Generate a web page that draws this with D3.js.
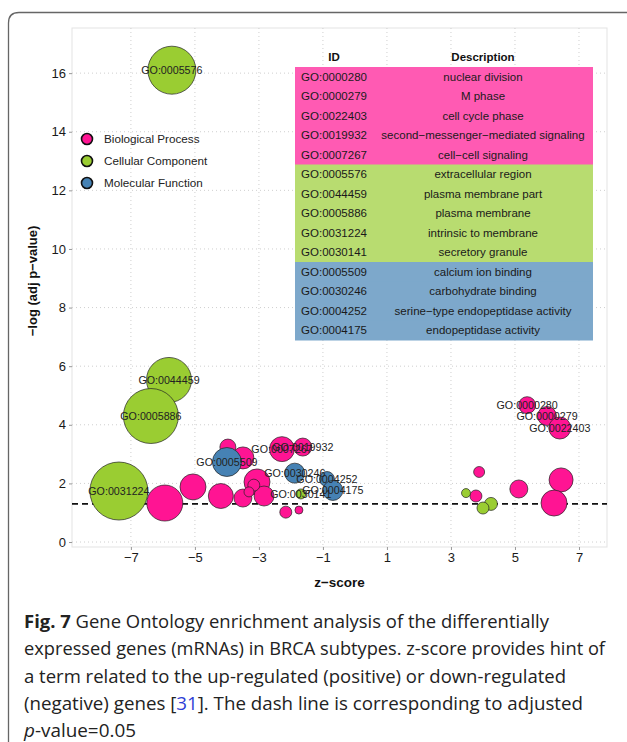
<!DOCTYPE html>
<html>
<head>
<meta charset="utf-8">
<script src="https://cdnjs.cloudflare.com/ajax/libs/d3/7.8.5/d3.min.js"></script>
<style>
  body { margin: 0; background: #fff; }
  svg { display: block; }
</style>
</head>
<body>
<script>
// GO categories and colours
const categories = ["Biological Process", "Cellular Component", "Molecular Function"];
const categoryColors = ["#ff1493", "#9acd32", "#4682b4"];
const tableColors = ["#ff5ab3", "#b8dc70", "#7da8cb"];

// bubbles (draw order: BP, CC, MF); empty id = unlabelled term
const termIds = [
  "", "", "", "", "", "", "", "", "", "", "GO:0007267", "GO:0019932", "", "",
  "GO:0000280", "GO:0000279", "GO:0022403", "", "", "", "", "",
  "GO:0044459", "GO:0005886", "GO:0005576", "GO:0031224", "GO:0030141", "", "", "",
  "GO:0005509", "GO:0030246", "GO:0004252", "GO:0004175"
];
const termCategory = [
  0, 0, 0, 0, 0, 0, 0, 0, 0, 0, 0, 0, 0, 0,
  0, 0, 0, 0, 0, 0, 0, 0,
  1, 1, 1, 1, 1, 1, 1, 1,
  2, 2, 2, 2
];
const zScores = [
  -5.94, -5.06, -4.19, -3.5, -3.06, -2.84, -3.16, -3.31, -3.97, -3.5, -2.28, -1.63, -2.16, -1.75,
  5.38, 6.0, 6.4, 3.88, 5.12, 6.44, 6.22, 3.78,
  -5.81, -6.375, -5.72, -7.375, -1.69, 3.47, 4.25, 4.0,
  -4.0, -1.88, -0.875, -0.69
];
const negLogAdjP = [
  1.33, 1.88, 1.57, 1.50, 2.05, 1.57, 1.94, 1.71, 3.24, 2.87, 3.17, 3.24, 1.02, 1.09,
  4.67, 4.30, 3.89, 2.39, 1.81, 2.12, 1.33, 1.57,
  5.53, 4.30, 16.1, 1.74, 1.64, 1.67, 1.30, 1.16,
  2.73, 2.35, 2.15, 1.76
];
const geneCounts = [
  324, 169, 156, 81, 169, 100, 36, 25, 64, 121, 156, 81, 36, 16,
  72, 90, 121, 30, 81, 144, 169, 36,
  506, 756, 576, 841, 25, 20, 42, 36,
  210, 100, 56, 100
];

// table annotation
const tableIds = [
  "GO:0000280", "GO:0000279", "GO:0022403", "GO:0019932", "GO:0007267",
  "GO:0005576", "GO:0044459", "GO:0005886", "GO:0031224", "GO:0030141",
  "GO:0005509", "GO:0030246", "GO:0004252", "GO:0004175"
];
const tableDescriptions = [
  "nuclear division", "M phase", "cell cycle phase",
  "second\u2212messenger\u2212mediated signaling", "cell\u2212cell signaling",
  "extracellular region", "plasma membrane part", "plasma membrane",
  "intrinsic to membrane", "secretory granule",
  "calcium ion binding", "carbohydrate binding",
  "serine\u2212type endopeptidase activity", "endopeptidase activity"
];
const tableCategory = [0, 0, 0, 0, 0, 1, 1, 1, 1, 1, 2, 2, 2, 2];

const xTicks = [-7, -5, -3, -1, 1, 3, 5, 7];
const yTicks = [0, 2, 4, 6, 8, 10, 12, 14, 16];
const pCutoff = 0.05;

const captionLines = [
  [["Fig. 7", "bold"], [" Gene Ontology enrichment analysis of the differentially", ""]],
  [["expressed genes (mRNAs) in BRCA subtypes. z-score provides hint of", ""]],
  [["a term related to the up-regulated (positive) or down-regulated", ""]],
  [["(negative) genes [", ""], ["31", "link"], ["]. The dash line is corresponding to adjusted", ""]],
  [["p", "italic"], ["-value=0.05", ""]]
];
// line widths measured on the printed figure
const captionWidths = [525, 581, 542, 559, 112];

const W = 627, H = 742;
const plotFont = "'Liberation Sans', Arial, sans-serif";

const svg = d3.select("body").append("svg")
  .attr("width", W).attr("height", H);

svg.append("rect").attr("width", W).attr("height", H).attr("fill", "#fff");

// rounded figure frame (open to the right / bottom)
svg.append("path")
  .attr("d", "M8.5," + H + " L8.5,23 Q8.5,12.5 19,12.5 L" + W + ",12.5")
  .attr("fill", "none")
  .attr("stroke", "#666")
  .attr("stroke-width", 1.3);

const x = d3.scaleLinear().domain([-8.84, 7.875]).range([72, 607]);
const y = d3.scaleLinear().domain([-0.17, 17.54]).range([547, 28]);
const r = d3.scaleSqrt().domain([0, 841]).range([0, 29]);
const color = d3.scaleOrdinal().domain([0, 1, 2]).range(categoryColors);

const [x0, x1] = x.range();
const [y0, y1] = y.range();

// panel
svg.append("rect")
  .attr("x", x0).attr("y", y1)
  .attr("width", x1 - x0).attr("height", y0 - y1)
  .attr("fill", "#fff")
  .attr("stroke", "#e3e3e3")
  .attr("stroke-width", 1);

// grid
svg.append("g").selectAll("line")
  .data(xTicks).enter().append("line")
  .attr("x1", d => x(d)).attr("x2", d => x(d))
  .attr("y1", y1).attr("y2", y0)
  .attr("stroke", "#cfcfcf").attr("stroke-dasharray", "1,3");

svg.append("g").selectAll("line")
  .data(yTicks).enter().append("line")
  .attr("x1", x0).attr("x2", x1)
  .attr("y1", d => y(d)).attr("y2", d => y(d))
  .attr("stroke", "#cfcfcf").attr("stroke-dasharray", "1,3");

// axes
const xAxis = svg.append("g")
  .attr("transform", "translate(0," + y0 + ")")
  .call(d3.axisBottom(x).tickValues(xTicks).tickSize(3).tickPadding(3));
const yAxis = svg.append("g")
  .attr("transform", "translate(" + x0 + ",0)")
  .call(d3.axisLeft(y).tickValues(yTicks).tickSize(3).tickPadding(3));

[xAxis, yAxis].forEach(function (g) {
  g.select(".domain").remove();
  g.selectAll(".tick line").attr("stroke", "#999");
  g.selectAll(".tick text")
    .attr("fill", "#1a1a1a")
    .style("font-family", plotFont)
    .style("font-size", "13px");
});

svg.append("text")
  .attr("x", (x0 + x1) / 2).attr("y", 587)
  .attr("text-anchor", "middle")
  .style("font-family", plotFont).style("font-size", "13.5px").style("font-weight", "bold")
  .attr("fill", "#111")
  .text("z\u2212score");

svg.append("text")
  .attr("transform", "translate(37,281) rotate(-90)")
  .attr("text-anchor", "middle")
  .style("font-family", plotFont).style("font-size", "13px").style("font-weight", "bold")
  .attr("fill", "#111")
  .text("\u2212log (adj p\u2212value)");

// significance line
svg.append("line")
  .attr("x1", x0).attr("x2", x1)
  .attr("y1", y(-Math.log10(pCutoff))).attr("y2", y(-Math.log10(pCutoff)))
  .attr("stroke", "#111")
  .attr("stroke-width", 1.7)
  .attr("stroke-dasharray", "6,4");

// bubbles
const terms = termIds.map(function (id, i) {
  return { id: id, cat: termCategory[i], z: zScores[i], p: negLogAdjP[i], n: geneCounts[i] };
});

svg.append("g").selectAll("circle")
  .data(terms).enter().append("circle")
  .attr("cx", d => x(d.z))
  .attr("cy", d => y(d.p))
  .attr("r", d => r(d.n))
  .attr("fill", d => color(d.cat))
  .attr("stroke", "#222")
  .attr("stroke-width", 0.7);

svg.append("g").selectAll("text")
  .data(terms.filter(d => d.id !== "")).enter().append("text")
  .attr("x", d => x(d.z))
  .attr("y", d => y(d.p))
  .attr("dy", "0.35em")
  .attr("text-anchor", "middle")
  .style("font-family", plotFont).style("font-size", "10.7px")
  .attr("fill", "#222")
  .text(d => d.id);

// legend
const legend = svg.append("g").attr("transform", "translate(87,139)");
legend.selectAll("circle")
  .data(categories).enter().append("circle")
  .attr("cx", 0).attr("cy", (d, i) => i * 22)
  .attr("r", 5.5)
  .attr("fill", (d, i) => categoryColors[i])
  .attr("stroke", "#111").attr("stroke-width", 1.6);
legend.selectAll("text")
  .data(categories).enter().append("text")
  .attr("x", 17).attr("y", (d, i) => i * 22)
  .attr("dy", "0.35em")
  .style("font-family", plotFont).style("font-size", "11.7px")
  .attr("fill", "#222")
  .text(d => d);

// table
const tLeft = 295, tRight = 593, tTop = 67, rowH = 19.5;
const idCenter = 334, descCenter = 483;
const table = svg.append("g");

table.selectAll("rect")
  .data(tableIds).enter().append("rect")
  .attr("x", tLeft).attr("y", (d, i) => tTop + i * rowH)
  .attr("width", tRight - tLeft).attr("height", rowH + 0.5)
  .attr("fill", (d, i) => tableColors[tableCategory[i]]);

table.append("text")
  .attr("x", idCenter).attr("y", tTop - rowH / 2).attr("dy", "0.35em")
  .attr("text-anchor", "middle")
  .style("font-family", plotFont).style("font-size", "11.5px").style("font-weight", "bold")
  .attr("fill", "#111").text("ID");
table.append("text")
  .attr("x", descCenter).attr("y", tTop - rowH / 2).attr("dy", "0.35em")
  .attr("text-anchor", "middle")
  .style("font-family", plotFont).style("font-size", "11.5px").style("font-weight", "bold")
  .attr("fill", "#111").text("Description");

table.selectAll(".tid")
  .data(tableIds).enter().append("text")
  .attr("class", "tid")
  .attr("x", idCenter).attr("y", (d, i) => tTop + (i + 0.5) * rowH).attr("dy", "0.35em")
  .attr("text-anchor", "middle")
  .style("font-family", plotFont).style("font-size", "11.5px")
  .attr("fill", "#1a1a1a").text(d => d);

table.selectAll(".tdesc")
  .data(tableDescriptions).enter().append("text")
  .attr("class", "tdesc")
  .attr("x", descCenter).attr("y", (d, i) => tTop + (i + 0.5) * rowH).attr("dy", "0.35em")
  .attr("text-anchor", "middle")
  .style("font-family", plotFont).style("font-size", "11.5px")
  .attr("fill", "#1a1a1a").text(d => d);

// caption
const caption = svg.append("g");
captionLines.forEach(function (parts, li) {
  const t = caption.append("text")
    .attr("x", 24).attr("y", 628 + li * 27.3)
    .attr("textLength", captionWidths[li])
    .attr("lengthAdjust", "spacingAndGlyphs")
    .style("font-family", "'Open Sans', 'Noto Sans', sans-serif")
    .style("font-size", "17.8px")
    .attr("fill", "#222");
  parts.forEach(function (p) {
    const s = t.append("tspan").text(p[0]);
    if (p[1] === "bold") s.style("font-weight", "bold");
    if (p[1] === "italic") s.style("font-style", "italic");
    if (p[1] === "link") s.attr("fill", "#2f3fd6");
  });
});
</script>
</body>
</html>
